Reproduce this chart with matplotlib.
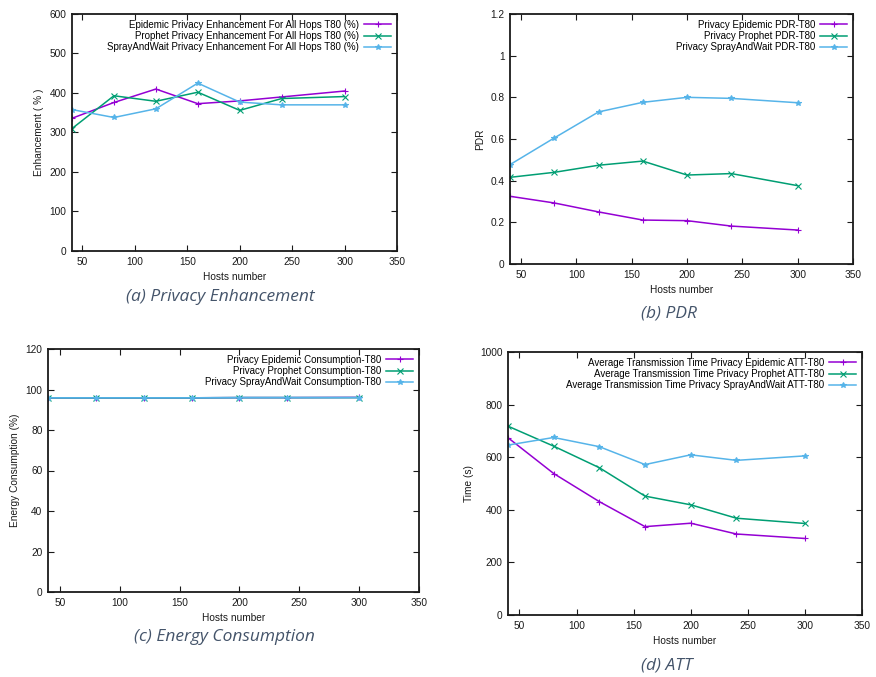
import matplotlib
matplotlib.use("Agg")
import matplotlib.pyplot as plt

plt.rcParams["font.family"] = ["Liberation Sans", "DejaVu Sans"]

hosts = [40, 80, 120, 160, 200, 240, 300]

# (a) privacy enhancement (%)
enh_epidemic = [336, 376, 410, 373, 380, 390, 405]
enh_prophet = [310, 393, 379, 402, 356, 386, 391]
enh_spray = [358, 338, 360, 425, 377, 370, 370]

# (b) packet delivery ratio
pdr_epidemic = [0.325, 0.293, 0.250, 0.211, 0.208, 0.182, 0.163]
pdr_prophet = [0.416, 0.440, 0.474, 0.494, 0.427, 0.434, 0.376]
pdr_spray = [0.477, 0.605, 0.730, 0.776, 0.800, 0.795, 0.774]

# (c) energy consumption (%)
eng_epidemic = [95.9, 95.9, 95.9, 95.9, 96.0, 96.0, 96.1]
eng_prophet = [95.9, 95.9, 95.9, 95.9, 96.0, 96.0, 96.0]
eng_spray = [95.9, 95.9, 95.9, 95.9, 96.0, 96.0, 96.0]

# (d) average transmission time (s)
att_epidemic = [674, 538, 431, 336, 349, 308, 291]
att_prophet = [718, 642, 560, 452, 419, 368, 348]
att_spray = [646, 675, 640, 572, 609, 588, 605]

x_ticks = [50, 100, 150, 200, 250, 300, 350]

PURPLE = "#9400d3"
GREEN = "#009e73"
BLUE = "#56b4e9"
CAPTION = "#44546a"
INK = "#1a1a1a"

W, H = 876, 677
fig = plt.figure(figsize=(W / 100, H / 100), dpi=100)


def box(left, top, right, bottom):
    return [left / W, (H - bottom) / H, (right - left) / W, (bottom - top) / H]


def panel(rect, series, labels, ylim, yticks, ylabel, yfmt=None):
    ax = fig.add_axes(rect)
    styles = [(PURPLE, "+"), (GREEN, "x"), (BLUE, "*")]
    for ys, lab, (c, m) in zip(series, labels, styles):
        ax.plot(hosts, ys, color=c, marker=m, markersize=4, lw=1.1,
                markeredgewidth=0.8, label=lab)
    ax.set_xlim(40, 350)
    ax.set_ylim(*ylim)
    ax.set_xticks(x_ticks)
    ax.set_yticks(yticks)
    if yfmt:
        ax.set_yticklabels([yfmt(v) for v in yticks])
    ax.tick_params(direction="in", top=True, right=True, length=4,
                   width=0.8, labelsize=7.3, pad=4, colors=INK)
    for s in ax.spines.values():
        s.set_linewidth(1.3)
        s.set_color(INK)
    ax.set_xlabel("Hosts number", fontsize=7.3, color=INK, labelpad=4)
    ax.set_ylabel(ylabel, fontsize=7.3, color=INK, labelpad=4)
    ax.legend(loc="upper right", frameon=False, markerfirst=False,
              fontsize=7, handlelength=2.8, labelspacing=0.12,
              borderaxespad=0.2, handletextpad=0.5)
    return ax


panel(box(72, 14, 397, 251),
      [enh_epidemic, enh_prophet, enh_spray],
      ["Epidemic Privacy Enhancement For All Hops T80 (%)",
       "Prophet Privacy Enhancement For All Hops T80 (%)",
       "SprayAndWait Privacy Enhancement For All Hops T80 (%)"],
      (0, 600), list(range(0, 601, 100)), "Enhancement ( % )")

panel(box(510, 14, 853, 264),
      [pdr_epidemic, pdr_prophet, pdr_spray],
      ["Privacy Epidemic PDR-T80",
       "Privacy Prophet PDR-T80",
       "Privacy SprayAndWait PDR-T80"],
      (0, 1.2), [0, 0.2, 0.4, 0.6, 0.8, 1.0, 1.2], "PDR",
      yfmt=lambda v: f"{v:g}")

panel(box(48, 349, 419, 592),
      [eng_epidemic, eng_prophet, eng_spray],
      ["Privacy Epidemic Consumption-T80",
       "Privacy Prophet Consumption-T80",
       "Privacy SprayAndWait Consumption-T80"],
      (0, 120), list(range(0, 121, 20)), "Energy Consumption (%)")

panel(box(508, 352, 862, 615),
      [att_epidemic, att_prophet, att_spray],
      ["Average Transmission Time Privacy Epidemic ATT-T80",
       "Average Transmission Time Privacy Prophet ATT-T80",
       "Average Transmission Time Privacy SprayAndWait ATT-T80"],
      (0, 1000), list(range(0, 1001, 200)), "Time (s)")

captions = [
    ("(a) Privacy Enhancement", 220, 297),
    ("(b) PDR", 669, 313),
    ("(c) Energy Consumption", 224, 637),
    ("(d) ATT", 667, 665),
]
for txt, cx, cy in captions:
    fig.text(cx / W, (H - cy) / H, txt, ha="center", va="center",
             fontsize=12.5, style="italic", color=CAPTION,
             family="Open Sans")

fig.savefig("out.png", dpi=100)
